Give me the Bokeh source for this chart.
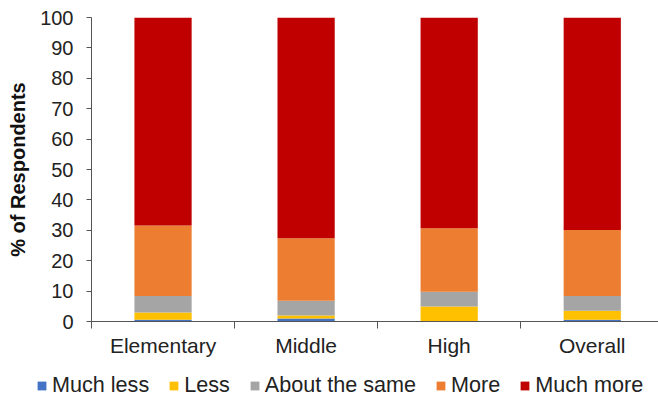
from bokeh.plotting import figure
from bokeh.models import ColumnDataSource, Range1d, FixedTicker, Legend, LegendItem
from bokeh.layouts import column
from bokeh.embed import file_html
from bokeh.resources import INLINE

categories = ["Elementary", "Middle", "High", "Overall"]
series = ["Much less", "Less", "About the same", "More", "Much more"]
much_less = [0.6, 1.0, 0.0, 0.6]
less = [2.4, 1.0, 4.9, 2.9]
about_same = [5.4, 4.8, 4.9, 4.9]
more = [23.2, 20.6, 20.9, 21.7]
much_more = [68.4, 72.6, 69.3, 69.9]
colors = ["#4472C4", "#FFC000", "#A5A5A5", "#ED7D31", "#C00000"]
y_ticks = [0, 10, 20, 30, 40, 50, 60, 70, 80, 90, 100]

xs = [i + 0.5 for i in range(len(categories))]
source = ColumnDataSource(dict(
    x=xs,
    **{
        "Much less": much_less,
        "Less": less,
        "About the same": about_same,
        "More": more,
        "Much more": much_more,
    }
))

FONT = "Liberation Sans"
TXT = "#222222"
AX = "#555555"

p = figure(width=658, height=372, output_backend="svg", toolbar_location=None,
           x_range=Range1d(0, 3.963), y_range=Range1d(0, 100),
           min_border_left=91, min_border_right=0, min_border_top=17,
           min_border_bottom=51)
p.frame_align = False
p.outline_line_color = None
p.xgrid.grid_line_color = None
p.ygrid.grid_line_color = None
p.background_fill_color = "white"
p.border_fill_color = "white"

p.vbar_stack(series, x="x", width=0.4, color=colors, line_color=None, source=source)

# x axis
xa = p.xaxis[0]
xa.ticker = FixedTicker(ticks=xs, minor_ticks=[0, 1, 2, 3, 4])
xa.major_label_overrides = {x: c for x, c in zip(xs, categories)}
xa.major_tick_out = 0
xa.major_tick_in = 0
xa.minor_tick_out = 7
xa.minor_tick_in = 0
xa.minor_tick_line_color = AX
xa.axis_line_color = AX
xa.major_label_text_font = FONT
xa.major_label_text_font_size = "21px"
xa.major_label_text_color = TXT
xa.major_label_standoff = 5

# y axis
ya = p.yaxis[0]
ya.ticker = FixedTicker(ticks=y_ticks)
ya.minor_tick_line_color = None
ya.major_tick_out = 5
ya.major_tick_in = 0
ya.major_tick_line_color = AX
ya.axis_line_color = AX
ya.major_label_text_font = FONT
ya.major_label_text_font_size = "20px"
ya.major_label_text_color = TXT
ya.major_label_standoff = 13
ya.axis_label = "% of Respondents"
ya.axis_label_text_font = FONT
ya.axis_label_text_font_size = "20px"
ya.axis_label_text_font_style = "bold"
ya.axis_label_text_color = "#111111"
ya.axis_label_standoff = 8

# legend in its own strip (bars drawn out of view there)
q = figure(width=658, height=26, output_backend="svg", toolbar_location=None,
           x_range=Range1d(0, 3.963), y_range=Range1d(200, 300),
           min_border_left=0, min_border_right=0, min_border_top=0,
           min_border_bottom=0, x_axis_type=None, y_axis_type=None)
q.frame_align = False
q.outline_line_color = None
q.xgrid.grid_line_color = None
q.ygrid.grid_line_color = None
q.background_fill_color = "white"
q.border_fill_color = "white"
rs = q.vbar_stack(series, x="x", width=0.4, color=colors, line_color=None, source=source)

lg = Legend(items=[LegendItem(label=s, renderers=[r]) for s, r in zip(series, rs)])
lg.orientation = "horizontal"
lg.location = (36, 0)
lg.glyph_width = 11
lg.glyph_height = 11
lg.label_standoff = 5
lg.spacing = 19
lg.padding = 0
lg.margin = 0
lg.border_line_color = None
lg.background_fill_alpha = 0
lg.label_text_font = FONT
lg.label_text_font_size = "21.6px"
lg.label_text_color = TXT
q.add_layout(lg)

layout = column(p, q, spacing=0)
open("out.html", "w").write(file_html(layout, INLINE))
